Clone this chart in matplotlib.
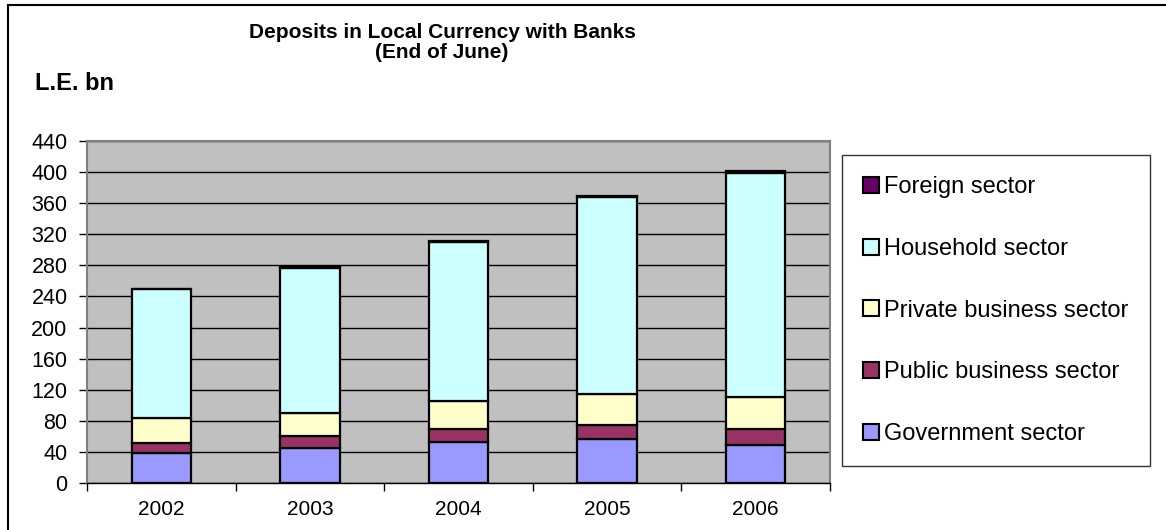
import matplotlib
matplotlib.use("Agg")
import matplotlib.pyplot as plt
from matplotlib.lines import Line2D
from matplotlib.patches import Patch
import numpy as np

plt.rcParams['font.family'] = ['Liberation Sans', 'DejaVu Sans']

years = ["2002", "2003", "2004", "2005", "2006"]
government = [38, 45.5, 53, 57, 48.5]
public_business = [14, 15, 16, 17.5, 21.5]
private_business = [32, 29.5, 36, 40, 41]
household = [165, 187, 204.5, 253.5, 288]
foreign = [1, 1, 1.5, 1.5, 2]

series = [
    ("Government sector", government, "#9999FF"),
    ("Public business sector", public_business, "#993366"),
    ("Private business sector", private_business, "#FFFFCC"),
    ("Household sector", household, "#CCFFFF"),
    ("Foreign sector", foreign, "#660066"),
]

W, H = 1166, 530
fig = plt.figure(figsize=(W / 100, H / 100), dpi=100)
fig.patch.set_facecolor("white")

ax = fig.add_axes([87 / W, 1 - 483 / H, (830 - 87) / W, (483 - 141) / H])
ax.set_facecolor("#C0C0C0")

x = np.arange(len(years))
bottom = np.zeros(len(years))
for name, vals, color in series:
    ax.bar(x, vals, width=0.4, bottom=bottom, color=color, edgecolor="black",
           linewidth=1.6, label=name, zorder=3)
    bottom += np.array(vals)

ax.set_xlim(-0.5, len(years) - 0.5)
ax.set_ylim(0, 440)
ax.set_yticks(np.arange(0, 441, 40))
ax.yaxis.grid(True, color="black", linewidth=1.0, zorder=1)
ax.set_axisbelow(True)

ax.set_xticks(x)
ax.set_xticklabels(years)
ax.set_xticks(np.arange(-0.5, len(years), 1), minor=True)
ax.tick_params(axis="x", which="major", length=0, pad=12, labelsize=15)
ax.tick_params(axis="x", which="minor", length=6, width=1, color="black", direction="out")
ax.tick_params(axis="y", length=6, width=1, color="black", direction="out", pad=8,
               labelsize=15.5)

for side in ("left", "top", "right"):
    ax.spines[side].set_color("#808080")
    ax.spines[side].set_linewidth(1.5)
ax.spines["bottom"].set_color("black")
ax.spines["bottom"].set_linewidth(1.0)

fig.text(442 / W, 1 - 32 / H, "Deposits in Local Currency with Banks", ha="center",
         va="center", fontsize=15, fontweight="bold")
fig.text(442 / W, 1 - 53 / H, "(End of June)", ha="center", va="center",
         fontsize=15, fontweight="bold")
fig.text(35 / W, 1 - 84 / H, "L.E. bn", ha="left", va="center", fontsize=17,
         fontweight="bold")

handles = [Patch(facecolor=c, edgecolor="black", linewidth=1.5, label=n)
           for n, _, c in series][::-1]
leg = fig.legend(handles=handles, loc="upper left",
                 bbox_to_anchor=(842 / W, 1 - 155 / H), bbox_transform=fig.transFigure,
                 fontsize=17, frameon=True, fancybox=False, edgecolor="black",
                 handlelength=0.65, handleheight=0.65, handletextpad=0.25,
                 labelspacing=1.68, borderpad=0.9, borderaxespad=0)
leg.get_frame().set_linewidth(1.0)

# outer frame of the chart
fig.add_artist(Line2D([8 / W, 8 / W], [0, 1 - 5 / H], color="black", linewidth=1.5,
                      transform=fig.transFigure))
fig.add_artist(Line2D([8 / W, 1], [1 - 5 / H, 1 - 5 / H], color="black", linewidth=1.5,
                      transform=fig.transFigure))

fig.savefig("out.png", dpi=100)
